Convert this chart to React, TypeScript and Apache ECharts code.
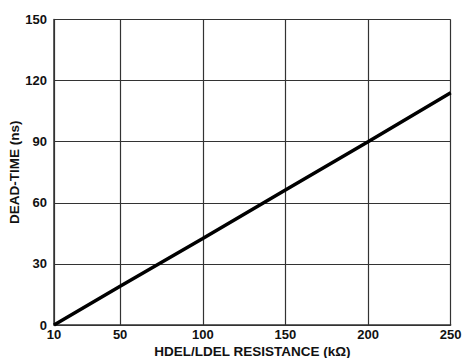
import React, { useEffect, useRef } from "react";
import * as echarts from "echarts";

const resistance = [10, 50, 100, 150, 200, 250];
const deadTime = [0, 19, 42.5, 66.3, 90, 114];
const xTicks = [10, 50, 100, 150, 200, 250];
const yTicks = [0, 30, 60, 90, 120, 150];

export default function App() {
  const ref = useRef<HTMLDivElement>(null);
  useEffect(() => {
    const chart = echarts.init(ref.current!, null, { renderer: "svg" });
    const font = "'Liberation Sans', Arial, sans-serif";
    chart.setOption({
      animation: false,
      backgroundColor: "#ffffff",
      grid: { left: 54, top: 19.5, right: 13.3, bottom: 33, containLabel: false, outerBoundsMode: "none" },
      xAxis: {
        type: "value",
        min: 10,
        max: 250,
        name: "HDEL/LDEL RESISTANCE (kΩ)",
        nameLocation: "middle",
        nameGap: 19,
        nameMoveOverlap: false,
        nameTextStyle: { fontFamily: font, fontWeight: "bold", fontSize: 13.5, lineHeight: 14, color: "#111" },
        axisLine: { show: true, lineStyle: { color: "#333", width: 1.5 } },
        axisTick: { show: false, customValues: xTicks },
        axisLabel: {
          customValues: xTicks,
          fontFamily: font,
          fontWeight: "bold",
          fontSize: 13,
          color: "#111",
          margin: 3,
        },
        splitLine: { show: true, lineStyle: { color: "#333", width: 1.2 } },
      },
      yAxis: {
        type: "value",
        min: 0,
        max: 150,
        interval: 30,
        name: "DEAD-TIME (ns)",
        nameLocation: "middle",
        nameGap: 33,
        nameMoveOverlap: false,
        nameRotate: 90,
        nameTextStyle: { fontFamily: font, fontWeight: "bold", fontSize: 13.5, lineHeight: 14, color: "#111" },
        axisLine: { show: true, lineStyle: { color: "#333", width: 1.5 } },
        axisTick: { show: false, customValues: yTicks },
        axisLabel: {
          customValues: yTicks,
          fontFamily: font,
          fontWeight: "bold",
          fontSize: 13,
          color: "#111",
          margin: 7,
        },
        splitLine: { show: true, lineStyle: { color: "#333", width: 1.2 } },
      },
      series: [
        {
          type: "line",
          data: resistance.map((r, i) => [r, deadTime[i]]),
          showSymbol: false,
          lineStyle: { color: "#000", width: 3.5 },
          clip: false,
        },
      ],
    });
    return () => chart.dispose();
  }, []);
  return <div ref={ref} style={{ width: 464, height: 358, position: "absolute", left: 0, top: 0 }} />;
}
